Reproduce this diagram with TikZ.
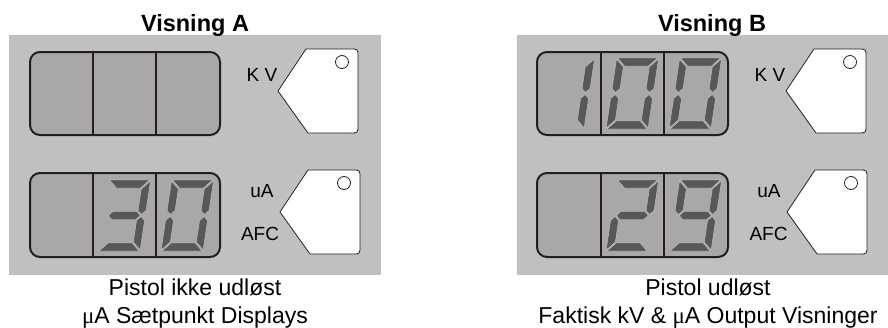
\documentclass[tikz,border=0pt]{standalone}
\usepackage{fontspec}
\setmainfont{Liberation Sans}
\newfontfamily\mufont{Liberation Serif}
\definecolor{panelgray}{RGB}{192,192,192}
\definecolor{boxgray}{RGB}{170,168,166}
\definecolor{segdark}{RGB}{88,88,88}
\definecolor{seglight}{RGB}{200,200,200}
\definecolor{inkline}{RGB}{35,31,32}
\tikzset{
  panel/.style={fill=panelgray, draw=none},
  dispbox/.style={fill=boxgray, draw=inkline, line width=2pt, rounded corners=10pt},
  divider/.style={draw=inkline, line width=2pt},
  segsty/.style={fill=segdark, draw=seglight, line width=0.4pt, line join=miter},
  tagsty/.style={fill=white, draw=inkline, line width=0.8pt, line join=round},
  ledsty/.style={fill=white, draw=inkline, line width=0.8pt},
  titlesty/.style={anchor=base, inner sep=0pt, font=\fontsize{23.5}{28}\selectfont\bfseries},
  capsty/.style={anchor=base, inner sep=0pt, font=\fontsize{23}{28}\selectfont},
  lblsty/.style={anchor=base, inner sep=0pt, font=\fontsize{19}{22}\selectfont},
  tagpic/.pic={
    \path[tagsty] (278,91) -- (306,49) -- (350,49) .. controls (358,49) .. (358,57)
      -- (358,125) .. controls (358,133) .. (350,133) -- (308,133) -- cycle;
    \path[ledsty] (342,62) circle (6.5);
  }
}
% seven segments in local coordinates (u right, v up), W=42, H=71, t=8
\newcommand\SgA{\path[segsty] (1,71) -- (41,71) -- (33,63) -- (9,63) -- cycle;}
\newcommand\SgD{\path[segsty] (1,0) -- (41,0) -- (33,8) -- (9,8) -- cycle;}
\newcommand\SgF{\path[segsty] (0,70) -- (8,62) -- (8,40.5) -- (4,36.5) -- (0,40.5) -- cycle;}
\newcommand\SgB{\path[segsty] (42,70) -- (34,62) -- (34,40.5) -- (38,36.5) -- (42,40.5) -- cycle;}
\newcommand\SgE{\path[segsty] (0,1) -- (8,9) -- (8,30.5) -- (4,34.5) -- (0,30.5) -- cycle;}
\newcommand\SgC{\path[segsty] (42,1) -- (34,9) -- (34,30.5) -- (38,34.5) -- (42,30.5) -- cycle;}
\newcommand\SgG{\path[segsty] (5,35.5) -- (9,39.5) -- (33,39.5) -- (37,35.5) -- (33,31.5) -- (9,31.5) -- cycle;}
\newcommand\DigitAt[3]{\begin{scope}[shift={(#1,#2)}, cm={1,0,-0.15,-1,(0,0)}]#3\end{scope}}
\newcommand\DOne{\SgB\SgC}
\newcommand\DTwo{\SgA\SgB\SgG\SgE\SgD}
\newcommand\DThree{\SgA\SgB\SgG\SgC\SgD}
\newcommand\DZero{\SgA\SgB\SgC\SgD\SgE\SgF}
\newcommand\DNine{\SgA\SgB\SgC\SgD\SgF\SgG}
\begin{document}
\begin{tikzpicture}[x=1pt, y=-1pt]
\useasboundingbox (0,0) rectangle (888,327);
% ---------- Panel A ----------
\path[panel] (9,35) rectangle (381,275);
\node[titlesty] (titleA) at (195,31.5) {Visning A};
% top display (empty)
\path[dispbox] (30,52) rectangle (220,135);
\draw[divider] (93,52) -- (93,135);
\draw[divider] (156,52) -- (156,135);
% bottom display "30"
\path[dispbox] (30,173) rectangle (220,257);
\DigitAt{98}{251}{\DThree}
\DigitAt{161}{251}{\DZero}
\draw[divider] (93,173) -- (93,257);
\draw[divider] (156,173) -- (156,257);
% tags
\pic at (0,0) {tagpic};
\pic at (2,121) {tagpic};
\node[lblsty] (kvA) at (262,81.5) {K V};
\node[lblsty] (uaA) at (262,197.5) {uA};
\node[lblsty] (afcA) at (260,240) {AFC};
\node[capsty] (capA1) at (195,295) {Pistol ikke udløst};
\node[capsty] (capA2) at (195,323) {{\mufont μ}A Sætpunkt Displays};
% ---------- Panel B ----------
\path[panel] (517,35) rectangle (888,275);
\node[titlesty] (titleB) at (712,31.5) {Visning B};
% top display "100"
\path[dispbox] (537,52) rectangle (728,135);
\DigitAt{542}{129}{\DOne}
\DigitAt{606}{129}{\DZero}
\DigitAt{669}{129}{\DZero}
\draw[divider] (601,52) -- (601,135);
\draw[divider] (664,52) -- (664,135);
% bottom display "29"
\path[dispbox] (537,173) rectangle (728,257);
\DigitAt{606}{251}{\DTwo}
\DigitAt{669}{251}{\DNine}
\draw[divider] (601,173) -- (601,257);
\draw[divider] (664,173) -- (664,257);
% tags
\pic at (508,0) {tagpic};
\pic at (509,121) {tagpic};
\node[lblsty] (kvB) at (770,81.5) {K V};
\node[lblsty] (uaB) at (769,197.5) {uA};
\node[lblsty] (afcB) at (768.5,240) {AFC};
\node[capsty] (capB1) at (708,295) {Pistol udløst};
\node[capsty] (capB2) at (708,323) {Faktisk kV \& {\mufont μ}A Output Visninger};
\end{tikzpicture}
\end{document}
